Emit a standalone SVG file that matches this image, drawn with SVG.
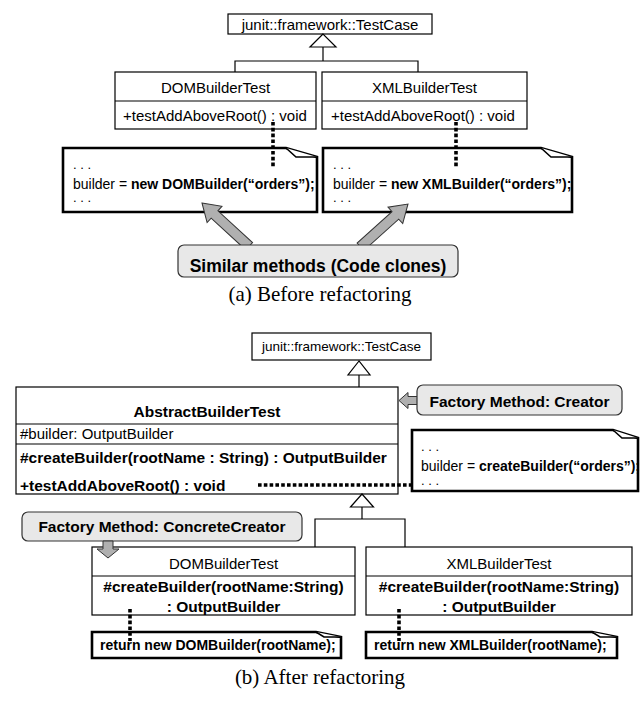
<svg xmlns="http://www.w3.org/2000/svg" xmlns:xlink="http://www.w3.org/1999/xlink" width="640" height="702" viewBox="0 0 640 702">
<style>
.box{fill:#fff;stroke:#000;stroke-width:1.2}
.ln{fill:none;stroke:#000;stroke-width:1.2}
.tri{fill:#fff;stroke:#000;stroke-width:1.2}
.note{fill:#fff;stroke:#000;stroke-width:2.6;stroke-linejoin:miter}
.fold{fill:#fff;stroke:#000;stroke-width:1.6;stroke-linejoin:miter}
.dot{fill:none;stroke:#000;stroke-width:3.6;stroke-dasharray:3.6 2.2}
.call{fill:#e8e8e8;stroke:#333;stroke-width:1.2}
.barrow{fill:#b0b0b0;stroke:#333;stroke-width:1}
text{font-family:"Liberation Sans",Arial,sans-serif;fill:#000}
.t15{font-size:15px}
.t13{font-size:13.5px}
.b{font-weight:bold}
.n14{font-size:14px}
.dots{font-size:13px}
.cap{font-family:"Liberation Serif","Times New Roman",serif;font-size:21px}
</style>
<defs>
<polygon id="blockArrow" points="0,0 17,-11 17,-5 64,-5 64,5 17,5 17,11"/>
</defs>

<!-- (a) Before refactoring -->
<g id="a-testcase">
<rect class="box" x="228" y="14" width="204" height="20"/>
<text class="t15" x="330" y="29.5" text-anchor="middle">junit::framework::TestCase</text>
</g>
<g id="a-dombuildertest">
<rect class="box" x="115" y="72" width="201" height="57"/>
<line class="ln" x1="115" y1="101" x2="316" y2="101"/>
<text class="t15" x="215.5" y="92.5" text-anchor="middle">DOMBuilderTest</text>
<text class="t15" x="123" y="120.5">+testAddAboveRoot() : void</text>
</g>
<g id="a-xmlbuildertest">
<rect class="box" x="322" y="72" width="205" height="57"/>
<line class="ln" x1="322" y1="101" x2="527" y2="101"/>
<text class="t15" x="424.5" y="92.5" text-anchor="middle">XMLBuilderTest</text>
<text class="t15" x="331" y="120.5">+testAddAboveRoot() : void</text>
</g>
<g id="a-note-dom">
<path class="note" d="M63,148 H286 L317,157 V212 H63 Z"/>
<path class="fold" d="M286,148 L296,157 L317,157"/>
<text class="dots" x="73" y="169">. . .</text>
<text class="n14" x="73" y="188.5">builder = <tspan class="b">new DOMBuilder(“orders”);</tspan></text>
<text class="dots" x="73" y="202">. . .</text>
</g>
<g id="a-note-xml">
<path class="note" d="M323,148 H541 L572,157 V212 H323 Z"/>
<path class="fold" d="M541,148 L551,157 L572,157"/>
<text class="dots" x="333" y="169">. . .</text>
<text class="n14" x="333" y="188.5">builder = <tspan class="b">new XMLBuilder(“orders”);</tspan></text>
<text class="dots" x="333" y="202">. . .</text>
</g>
<g id="a-callout">
<use xlink:href="#blockArrow" href="#blockArrow" class="barrow" transform="translate(202,203) rotate(42.5)"/>
<use xlink:href="#blockArrow" href="#blockArrow" class="barrow" transform="translate(408,204) rotate(138)"/>
<rect class="call" x="178" y="245" width="280" height="32" rx="6"/>
<text class="b" font-size="17.5" x="318" y="272" text-anchor="middle">Similar methods (Code clones)</text>
</g>
<g id="a-connectors">
<polygon class="tri" points="323,34 310,47 336,47"/>
<polyline class="ln" points="323,47 323,61"/>
<polyline class="ln" points="235,72 235,61 418,61 418,72"/>
<line class="dot" x1="273" y1="122" x2="273" y2="168"/>
<line class="dot" x1="456" y1="122" x2="456" y2="168"/>
</g>
<text class="cap" x="320" y="301" text-anchor="middle">(a) Before refactoring</text>

<!-- (b) After refactoring -->
<g id="b-testcase">
<rect class="box" x="252" y="333" width="179" height="27"/>
<text class="t13" x="341.5" y="351" text-anchor="middle">junit::framework::TestCase</text>
</g>
<g id="b-abstractbuildertest">
<rect class="box" x="16" y="387" width="382" height="107"/>
<line class="ln" x1="16" y1="424" x2="398" y2="424"/>
<line class="ln" x1="16" y1="444" x2="398" y2="444"/>
<text class="b" font-size="15.5" x="207" y="417" text-anchor="middle">AbstractBuilderTest</text>
<text class="t15" x="20" y="439">#builder: OutputBuilder</text>
<text class="b" font-size="15.5" x="20" y="462.5">#createBuilder(rootName : String) : OutputBuilder</text>
<text class="b" font-size="15.5" x="20" y="490.5">+testAddAboveRoot() : void</text>
</g>
<g id="b-creator-callout">
<polygon class="barrow" points="399,400.5 408,392.5 408,396.5 418,396.5 418,404.5 408,404.5 408,408.5"/>
<rect class="call" x="417" y="385" width="205" height="30" rx="6"/>
<text class="b" font-size="15.5" x="519.5" y="406.5" text-anchor="middle">Factory Method: Creator</text>
</g>
<g id="b-note-abstract">
<path class="note" d="M412,430 H613 L638,438 V491 H412 Z"/>
<path class="fold" d="M613,430 L622,438 L638,438"/>
<text class="dots" x="421" y="451">. . .</text>
<text class="n14" font-size="13.5" x="421" y="471">builder = <tspan class="b">createBuilder(“orders”);</tspan></text>
<text class="dots" x="421" y="485">. . .</text>
</g>
<g id="b-dombuildertest">
<rect class="box" x="92" y="547" width="263" height="68"/>
<line class="ln" x1="92" y1="576" x2="355" y2="576"/>
<text class="t15" x="223.5" y="568.5" text-anchor="middle">DOMBuilderTest</text>
<text class="b" font-size="15.5" x="223.5" y="592" text-anchor="middle">#createBuilder(rootName:String)</text>
<text class="b" font-size="15.5" x="223.5" y="611.5" text-anchor="middle">: OutputBuilder</text>
</g>
<g id="b-xmlbuildertest">
<rect class="box" x="366" y="547" width="266" height="68"/>
<line class="ln" x1="366" y1="576" x2="632" y2="576"/>
<text class="t15" x="499" y="568.5" text-anchor="middle">XMLBuilderTest</text>
<text class="b" font-size="15.5" x="499" y="592" text-anchor="middle">#createBuilder(rootName:String)</text>
<text class="b" font-size="15.5" x="499" y="611.5" text-anchor="middle">: OutputBuilder</text>
</g>
<g id="b-concrete-callout">
<rect class="call" x="22" y="512" width="280" height="29" rx="6"/>
<text class="b" font-size="15.5" x="162" y="532" text-anchor="middle">Factory Method: ConcreteCreator</text>
<polygon class="barrow" points="103,541 113,541 113,549 119,549 108,558 97,549 103,549"/>
</g>
<g id="b-note-dom">
<path class="note" d="M92,632 H316 L341,637 V658 H92 Z"/>
<path class="fold" d="M316,632 L324,637 L341,637"/>
<text class="b n14" x="100" y="649.5">return new DOMBuilder(rootName);</text>
</g>
<g id="b-note-xml">
<path class="note" d="M366,632 H592 L617,637 V658 H366 Z"/>
<path class="fold" d="M592,632 L600,637 L617,637"/>
<text class="b n14" x="374" y="649.5">return new XMLBuilder(rootName);</text>
</g>
<g id="b-connectors">
<polygon class="tri" points="359,361 348,375 370,375"/>
<polyline class="ln" points="359,375 359,387"/>
<polygon class="tri" points="362,494 350.5,507 373.5,507"/>
<polyline class="ln" points="362,507 362,519"/>
<polyline class="ln" points="315,547 315,519 405,519 405,547"/>
<line class="dot" x1="258" y1="485" x2="412" y2="485"/>
<line class="dot" x1="130" y1="609" x2="130" y2="641"/>
<line class="dot" x1="399" y1="609" x2="399" y2="641"/>
</g>
<text class="cap" x="320" y="684" text-anchor="middle">(b) After refactoring</text>
</svg>
